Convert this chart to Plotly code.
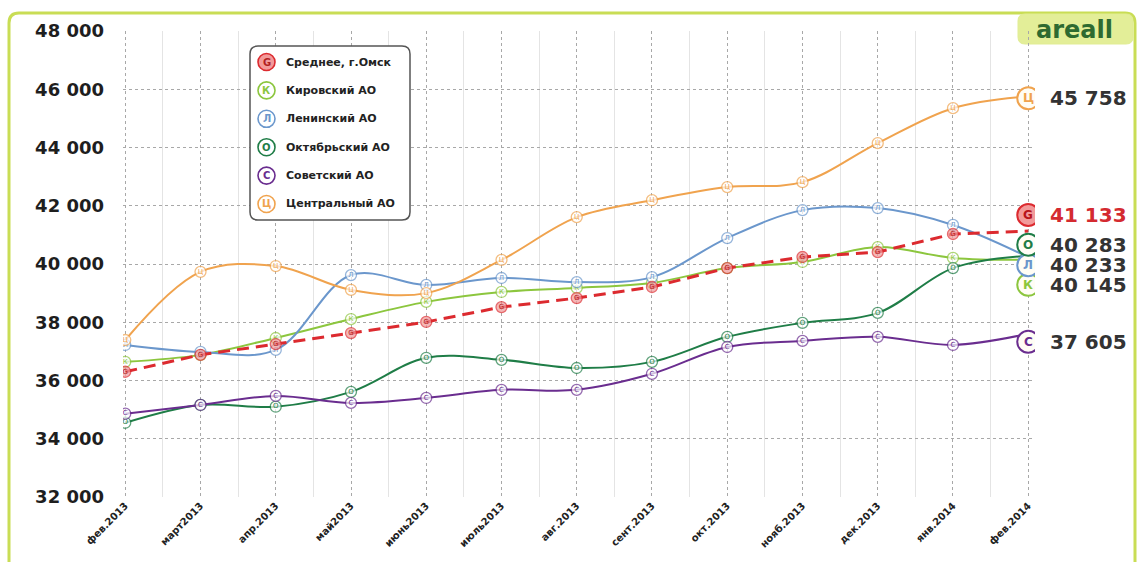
import plotly.graph_objects as go

# Months (x-axis categories)
months = ["фев.2013", "март2013", "апр.2013", "май2013", "июнь2013", "июль2013",
          "авг.2013", "сент.2013", "окт.2013", "нояб.2013", "дек.2013", "янв.2014", "фев.2014"]

# Average price per square metre, RUB
avg_omsk = [36300, 36880, 37250, 37630, 38010, 38520, 38830, 39210, 39860, 40240, 40410, 41030, 41133]
kirovsky = [36640, 36880, 37460, 38110, 38700, 39040, 39180, 39350, 39860, 40070, 40580, 40210, 40145]
leninsky = [37220, 36980, 37050, 39620, 39280, 39520, 39380, 39550, 40890, 41850, 41920, 41340, 40233]
oktyabrsky = [34550, 35160, 35100, 35610, 36780, 36710, 36430, 36640, 37500, 37980, 38320, 39860, 40283]
sovetsky = [34860, 35160, 35470, 35230, 35400, 35680, 35680, 36230, 37150, 37360, 37500, 37220, 37605]
centralny = [37390, 39730, 39930, 39110, 39000, 40140, 41610, 42190, 42640, 42810, 44150, 45350, 45758]

y_ticks = [32000, 34000, 36000, 38000, 40000, 42000, 44000, 46000, 48000]

series = [
    # name, values, letter, line colour, marker fill, dashed, end-label shift (px)
    ("Среднее, г.Омск", avg_omsk, "G", "#dc2a2f", "#f29a9a", True, 16),
    ("Кировский АО", kirovsky, "К", "#8cc63e", "#ffffff", False, -25),
    ("Ленинский АО", leninsky, "Л", "#6b97cc", "#ffffff", False, -8),
    ("Октябрьский АО", oktyabrsky, "О", "#1f7d47", "#ffffff", False, 11),
    ("Советский АО", sovetsky, "С", "#6a2d8f", "#ffffff", False, -8),
    ("Центральный АО", centralny, "Ц", "#f0a34e", "#ffffff", False, -2),
]

FONT = "DejaVu Sans"
W_FIG, H_FIG = 1138, 562
M_L, M_R, M_T, M_B = 123, 103, 31, 65
PW = W_FIG - M_L - M_R
PH = H_FIG - M_T - M_B


def px(x):
    return (x - M_L) / PW


def py(y):
    return (M_T + PH - y) / PH


def rounded_rect(x0, y0, x1, y1, r):
    """SVG path of a rounded rectangle given in pixel coordinates, mapped to paper units."""
    pts = []
    pts.append(f"M {px(x0 + r)},{py(y0)}")
    pts.append(f"L {px(x1 - r)},{py(y0)}")
    pts.append(f"Q {px(x1)},{py(y0)} {px(x1)},{py(y0 + r)}")
    pts.append(f"L {px(x1)},{py(y1 - r)}")
    pts.append(f"Q {px(x1)},{py(y1)} {px(x1 - r)},{py(y1)}")
    pts.append(f"L {px(x0 + r)},{py(y1)}")
    pts.append(f"Q {px(x0)},{py(y1)} {px(x0)},{py(y1 - r)}")
    pts.append(f"L {px(x0)},{py(y0 + r)}")
    pts.append(f"Q {px(x0)},{py(y0)} {px(x0 + r)},{py(y0)}")
    pts.append("Z")
    return " ".join(pts)


fig = go.Figure()
x_idx = list(range(len(months)))
n = len(months)

# draw the average last so the dashed line sits on top
for name, vals, letter, col, fill, dashed, _ in series[1:] + series[:1]:
    fig.add_trace(go.Scatter(
        x=x_idx, y=vals, name=name,
        mode="lines+markers+text",
        line=dict(color=col, width=3 if dashed else 2,
                  shape="linear" if dashed else "spline", smoothing=1.0,
                  dash="12px,7px" if dashed else "solid"),
        marker=dict(size=[11] * (n - 1) + [0], color=fill,
                    line=dict(color=col, width=1.3)),
        text=[letter] * (n - 1) + [""],
        textposition="middle center",
        textfont=dict(family=FONT, size=7, color="#b01e22" if dashed else col),
        hoverinfo="skip",
        showlegend=False,
    ))

shapes = []
annotations = []

# outer frame and brand badge
shapes.append(dict(type="path", xref="paper", yref="paper",
                   path=rounded_rect(9, 13, 1135, 640, 10),
                   line=dict(color="#c9dd55", width=3), fillcolor="rgba(0,0,0,0)",
                   layer="below"))
shapes.append(dict(type="path", xref="paper", yref="paper",
                   path=rounded_rect(1018, 14, 1133, 44, 7),
                   line=dict(color="#e1ed93", width=1), fillcolor="#e3ee98",
                   layer="below"))
annotations.append(dict(xref="paper", yref="paper", x=px(1074), y=py(30),
                        text="<b>areall</b>", showarrow=False,
                        font=dict(family=FONT, size=24, color="#2e6a30"),
                        xanchor="center", yanchor="middle"))

# end-of-series badges with values
for name, vals, letter, col, fill, dashed, shift in series:
    v = vals[-1]
    shapes.append(dict(type="circle", xref="x", yref="y",
                       xsizemode="pixel", ysizemode="pixel",
                       xanchor=n - 1, yanchor=v,
                       x0=-11, x1=11, y0=shift - 11, y1=shift + 11,
                       fillcolor=fill if dashed else "#fffdf5",
                       line=dict(color=col, width=2)))
    annotations.append(dict(x=n - 1, y=v, yshift=shift, text=f"<b>{letter}</b>",
                            showarrow=False, xanchor="center", yanchor="middle",
                            font=dict(family=FONT, size=12,
                                      color="#b8141a" if dashed else col)))
    annotations.append(dict(x=n - 1, y=v, yshift=shift, xshift=20,
                            text="<b>" + f"{v:,}".replace(",", " ") + "</b>",
                            showarrow=False, xanchor="left", yanchor="middle",
                            font=dict(family=FONT, size=20,
                                      color="#d42a30" if dashed else "#333333")))

# legend box
shapes.append(dict(type="path", xref="paper", yref="paper",
                   path=rounded_rect(250, 46, 410, 220, 8),
                   line=dict(color="#555555", width=1.5), fillcolor="#ffffff"))
for i, (name, vals, letter, col, fill, dashed, _) in enumerate(series):
    cy = 62 + i * 28.4
    shapes.append(dict(type="circle", xref="paper", yref="paper",
                       x0=px(258), x1=px(275), y0=py(cy + 8.5), y1=py(cy - 8.5),
                       fillcolor=fill if dashed else "#ffffff",
                       line=dict(color=col, width=1.6)))
    annotations.append(dict(xref="paper", yref="paper", x=px(266.5), y=py(cy),
                            text=f"<b>{letter}</b>", showarrow=False,
                            xanchor="center", yanchor="middle",
                            font=dict(family=FONT, size=10,
                                      color="#b01e22" if dashed else col)))
    annotations.append(dict(xref="paper", yref="paper", x=px(284), y=py(cy),
                            text=f"<b>{name}</b>", showarrow=False,
                            xanchor="left", yanchor="middle",
                            font=dict(family=FONT, size=11, color="#222222")))

fig.update_layout(
    width=W_FIG, height=H_FIG,
    margin=dict(l=M_L, r=M_R, t=M_T, b=M_B, pad=0),
    paper_bgcolor="#ffffff", plot_bgcolor="#ffffff",
    shapes=shapes, annotations=annotations,
    showlegend=False,
    xaxis=dict(
        range=[-0.03, 12.09],
        tickmode="array", tickvals=x_idx, ticktext=[f"<b>{m}</b>" for m in months],
        tickangle=-45, tickfont=dict(family=FONT, size=10, color="#222222"),
        showgrid=True, gridcolor="#a8a8a8", griddash="dot", gridwidth=1,
        minor=dict(tick0=0.5, dtick=1, showgrid=True, gridcolor="#e4e4e4",
                   griddash="solid", gridwidth=1),
        zeroline=False, showline=False, ticks="",
    ),
    yaxis=dict(
        range=[32000, 48000],
        tickmode="array", tickvals=y_ticks,
        ticktext=["<b>" + f"{t:,}".replace(",", " ") + "</b>" for t in y_ticks],
        tickfont=dict(family=FONT, size=18, color="#1e1e1e"),
        ticklabelstandoff=18,
        showgrid=True, gridcolor="#a8a8a8", griddash="dot", gridwidth=1,
        zeroline=False, showline=False, ticks="",
    ),
)

fig.write_html("out.html")
